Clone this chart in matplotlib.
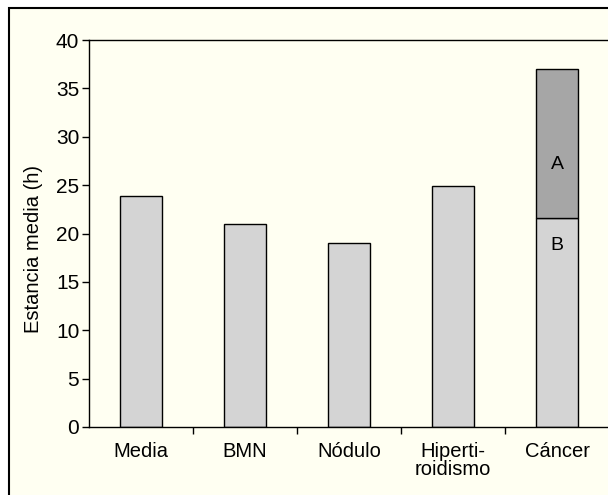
import matplotlib
matplotlib.use("Agg")
import matplotlib.pyplot as plt
from matplotlib.patches import Rectangle

categories = ["Media", "BMN", "Nódulo", "Hiperti-\nroidismo", "Cáncer"]
values = [23.9, 21.0, 19.0, 24.9, 21.6]
cancer_extra = 15.4
yticks = [0, 5, 10, 15, 20, 25, 30, 35, 40]

plt.rcParams['font.family'] = ['Liberation Sans', 'DejaVu Sans']
W, H = 608, 495
fig = plt.figure(figsize=(W/100, H/100), dpi=100, facecolor='white')
cream = '#FFFFF2'
fig.patches.append(Rectangle((9/W, -0.2), 1.2, (H-8)/H + 0.2, transform=fig.transFigure,
                             facecolor=cream, edgecolor='black', linewidth=1.5, zorder=-10))

ax = fig.add_axes([89/W, (H-427)/H, (609-89)/W, (427-40)/H])
ax.set_facecolor(cream)
x = list(range(len(categories)))
ax.bar(x, values, width=0.4, color='#D4D4D4', edgecolor='black', linewidth=1)
ax.bar([4], [cancer_extra], bottom=[values[4]], width=0.4, color='#A6A6A6', edgecolor='black', linewidth=1)
ax.text(4, 27.1, "A", ha='center', va='center', fontsize=14)
ax.text(4, 18.8, "B", ha='center', va='center', fontsize=14)

ax.set_xlim(-0.5, 4.5)
ax.set_ylim(0, 40)
ax.set_yticks(yticks)
ax.set_xticks(x)
ax.set_xticklabels(categories, fontsize=14.5, linespacing=0.9, va='top')
ax.set_xticks([0.5, 1.5, 2.5, 3.5], minor=True)
ax.tick_params(axis='x', which='major', length=0, pad=11)
ax.tick_params(axis='x', which='minor', length=5, width=1, direction='out')
ax.tick_params(axis='y', length=5, width=1, direction='out', labelsize=15, pad=2)
ax.spines['right'].set_visible(False)
for s in ['left', 'top', 'bottom']:
    ax.spines[s].set_linewidth(1)
ax.set_ylabel("Estancia media (h)", fontsize=14.5)
ax.yaxis.set_label_coords(-0.088, 0.46)

fig.savefig("out.png", dpi=100, facecolor='white')
